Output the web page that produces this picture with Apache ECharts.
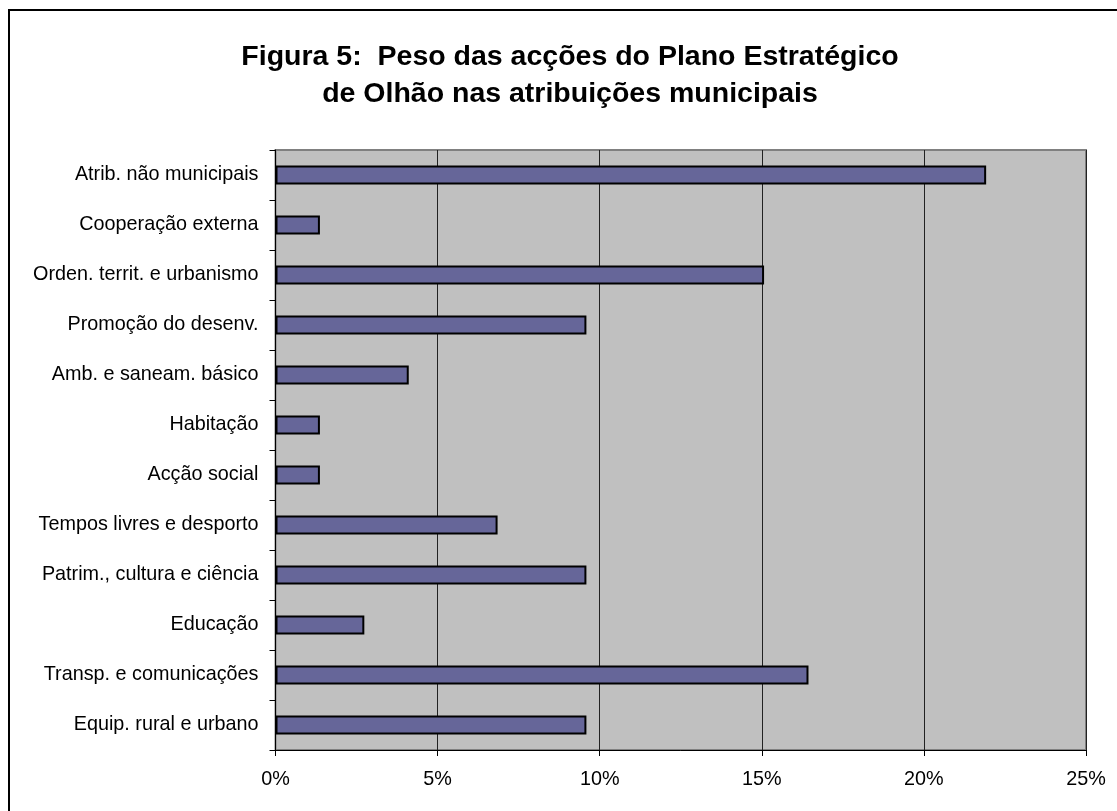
<!DOCTYPE html>
<html>
<head>
<meta charset="utf-8">
<script src="https://cdn.jsdelivr.net/npm/echarts@6/dist/echarts.min.js"></script>
<style>
  html, body { margin: 0; padding: 0; background: #ffffff; }
  #chart { width: 1117px; height: 811px; }
</style>
</head>
<body>
<div id="chart"></div>
<script>
// Categories listed bottom to top, as the bars stack on the category axis
const categories = [
  'Equip. rural e urbano',
  'Transp. e comunicações',
  'Educação',
  'Patrim., cultura e ciência',
  'Tempos livres e desporto',
  'Acção social',
  'Habitação',
  'Amb. e saneam. básico',
  'Promoção do desenv.',
  'Orden. territ. e urbanismo',
  'Cooperação externa',
  'Atrib. não municipais'
];

// Share of the plan's actions in each municipal remit (%)
const shares = [9.59, 16.44, 2.74, 9.59, 6.85, 1.37, 1.37, 4.11, 9.59, 15.07, 1.37, 21.92];

const titleText = 'Figura 5:  Peso das acções do Plano Estratégico\nde Olhão nas atribuições municipais';

const fontFamily = '"Liberation Sans", Arial, sans-serif';

const chart = echarts.init(document.getElementById('chart'), null, { renderer: 'canvas' });

chart.setOption({
  backgroundColor: '#ffffff',
  animation: false,
  title: {
    text: titleText,
    left: 565,
    top: 34,
    textAlign: 'center',
    textStyle: {
      fontFamily: fontFamily,
      fontSize: 28.5,
      fontWeight: 'bold',
      color: '#000000',
      lineHeight: 37
    }
  },
  graphic: [{
    type: 'rect',
    shape: { x: 9, y: 10, width: 1200, height: 900 },
    style: { fill: 'none', stroke: '#000000', lineWidth: 2 },
    silent: true,
    z: 100
  }],
  grid: {
    left: 275.5,
    right: 31,
    top: 150,
    bottom: 61,
    show: true,
    backgroundColor: '#c0c0c0',
    borderColor: '#808080',
    borderWidth: 2
  },
  xAxis: {
    type: 'value',
    min: 0,
    max: 25,
    interval: 5,
    axisLine: { show: true, lineStyle: { color: '#000000', width: 1 } },
    axisTick: { show: true, inside: false, length: 6, lineStyle: { color: '#000000', width: 1 } },
    axisLabel: {
      formatter: '{value}%',
      margin: 20,
      color: '#000000',
      fontFamily: fontFamily,
      fontSize: 19.8
    },
    splitLine: { show: true, lineStyle: { color: '#222222', width: 1 } }
  },
  yAxis: {
    type: 'category',
    data: categories,
    axisLine: { show: true, lineStyle: { color: '#000000', width: 1 } },
    axisTick: { show: true, inside: false, length: 6, alignWithLabel: false, lineStyle: { color: '#000000', width: 1 } },
    axisLabel: {
      margin: 17,
      color: '#000000',
      fontFamily: fontFamily,
      fontSize: 19.8
    },
    splitLine: { show: false }
  },
  series: [{
    type: 'bar',
    data: shares,
    barWidth: 19,
    itemStyle: {
      color: '#666699',
      borderColor: '#000000',
      borderWidth: 2
    }
  }]
});
</script>
</body>
</html>
